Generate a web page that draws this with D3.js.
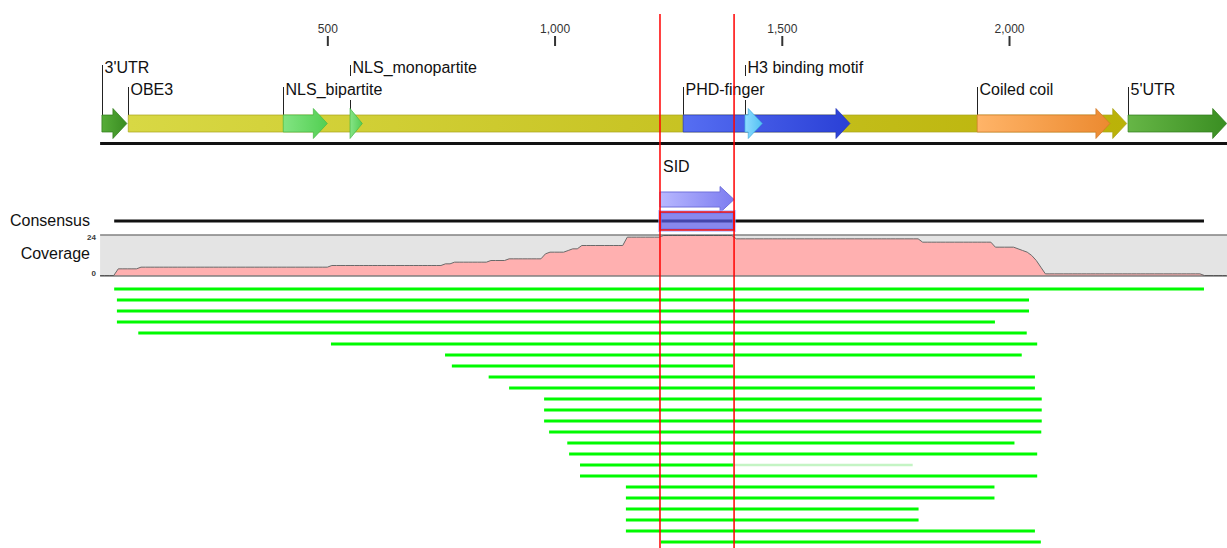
<!DOCTYPE html>
<html>
<head>
<meta charset="utf-8">
<script src="https://cdn.jsdelivr.net/npm/d3@7"></script>
<style>
  body { margin: 0; background: #fff; }
  svg { display: block; font-family: "Liberation Sans", Arial, sans-serif; }
</style>
</head>
<body>
<div id="chart"></div>
<script>
// Data (positions in bp)
const seqLength = 2479;
const rulerTicks = [500, 1000, 1500, 2000];

const featureNames = ["OBE3", "3'UTR", "NLS_bipartite", "NLS_monopartite", "PHD-finger", "H3 binding motif", "Coiled coil", "5'UTR"];
const featureStart = [62, 4, 403, 550, 1283, 1419, 1930, 2262];
const featureEnd = [2259, 59, 500, 577, 1650, 1457, 2222, 2479];

const sidName = "SID";
const sidRange = [1232, 1395];

const readStart = [31, 37, 37, 37, 84, 508, 759, 774, 855, 900, 977, 977, 977, 988, 1028, 1032, 1056, 1056, 1157, 1157, 1157, 1157, 1157, 1234];
const readEnd = [2429, 2044, 2044, 1969, 2039, 2062, 2028, 1393, 2057, 2057, 2072, 2072, 2072, 2071, 2012, 2062, 1393, 2062, 1968, 1968, 1801, 1801, 2057, 2070];
// unaligned tail of a read (drawn faint, not counted in coverage)
const readTailEnd = [null, null, null, null, null, null, null, null, null, null, null, null, null, null, null, null, 1788, null, null, null, null, null, null, null];

const coverageTicks = [0, 24];

// Styles
const featureColors = {
  "OBE3": ["#d8d844", "#bab208", "#a9a41a"],
  "3'UTR": ["#56ad38", "#3a8c22", "#2f7a1a"],
  "NLS_bipartite": ["#82e482", "#52cf52", "#46b846"],
  "NLS_monopartite": ["#86e486", "#54cc54", "#46b846"],
  "PHD-finger": ["#566ef2", "#2a40d6", "#2436b8"],
  "H3 binding motif": ["#8edcff", "#52c0f2", "#3eaee0"],
  "Coiled coil": ["#ffb468", "#ec8a30", "#d07828"],
  "5'UTR": ["#66b646", "#3a8e22", "#2f7a1a"],
};
const labelRow = {
  "OBE3": 2, "3'UTR": 1, "NLS_bipartite": 2, "NLS_monopartite": 1,
  "PHD-finger": 2, "H3 binding motif": 1, "Coiled coil": 2, "5'UTR": 2,
};

const dims = { width: 1227, height: 548 };
const bar = { yc: 123.5, bodyHalf: 8.5, headHalf: 15, headLen: 14, top: 115 };
const rowBaseline = { 1: 73, 2: 95 };

const svg = d3.select("#chart").append("svg")
  .attr("width", dims.width)
  .attr("height", dims.height);
const defs = svg.append("defs");

// Scales
const xScale = d3.scaleLinear().domain([0, seqLength]).range([100.1, 1226.7]);
const yRead = d3.scalePoint().domain(d3.range(readStart.length)).range([289, 289 + 11 * (readStart.length - 1)]);
const yCov = d3.scaleLinear().domain([0, d3.max(coverageTicks)]).range([275.5, 235.5]);

function arrowPath(x0, x1, yc, bh, hh, hl) {
  if (x1 - x0 <= hl) {
    return `M${x0},${yc - hh}L${x1},${yc}L${x0},${yc + hh}Z`;
  }
  const xh = x1 - hl;
  return `M${x0},${yc - bh}L${xh},${yc - bh}L${xh},${yc - hh}L${x1},${yc}L${xh},${yc + hh}L${xh},${yc + bh}L${x0},${yc + bh}Z`;
}

// Ruler
const ruler = svg.append("g").attr("transform", "translate(0,46)")
  .call(d3.axisTop(xScale).tickValues(rulerTicks).tickFormat(d3.format(",")).tickSize(10).tickPadding(3));
ruler.select(".domain").remove();
ruler.selectAll(".tick line").attr("stroke", "#333").attr("stroke-width", 2);
ruler.selectAll(".tick text").attr("fill", "#333").style("font-size", "12px")
  .style("font-family", "'Liberation Sans', Arial, sans-serif");

// Feature gradients
const features = featureNames.map((name, i) => ({ name, start: featureStart[i], end: featureEnd[i], i }));
features.forEach((f) => {
  const g = defs.append("linearGradient").attr("id", `grad${f.i}`).attr("x1", "0").attr("x2", "1").attr("y1", "0").attr("y2", "0");
  g.append("stop").attr("offset", "0").attr("stop-color", featureColors[f.name][0]);
  g.append("stop").attr("offset", "1").attr("stop-color", featureColors[f.name][1]);
});

// Leader lines
svg.append("g").selectAll("line").data(features).join("line")
  .attr("x1", (d) => Math.round(xScale(d.start)) + 0.5)
  .attr("x2", (d) => Math.round(xScale(d.start)) + 0.5)
  .attr("y1", (d) => rowBaseline[labelRow[d.name]] - 8)
  .attr("y2", bar.top)
  .attr("stroke", "#222").attr("stroke-width", 1);

// Feature arrows
svg.append("g").selectAll("path").data(features).join("path")
  .attr("d", (d) => arrowPath(xScale(d.start), xScale(d.end), bar.yc, bar.bodyHalf, bar.headHalf, bar.headLen))
  .attr("fill", (d) => `url(#grad${d.i})`)
  .attr("stroke", (d) => featureColors[d.name][2])
  .attr("stroke-width", 1)
  .attr("stroke-opacity", 0.7);

// Labels (row 1 first, row 2 on top with white backing)
const labelGroup = svg.append("g");
[1, 2].forEach((row) => {
  features.filter((f) => labelRow[f.name] === row).forEach((f) => {
    const lx = Math.round(xScale(f.start)) + 2.5;
    const bg = labelGroup.append("rect").attr("fill", "#fff");
    const t = labelGroup.append("text")
      .attr("x", lx).attr("y", rowBaseline[row])
      .style("font-size", "16px").attr("fill", "#111")
      .text(f.name);
    const w = t.node().getComputedTextLength();
    bg.attr("x", lx).attr("y", rowBaseline[row] - 19).attr("width", w + 1).attr("height", 24);
  });
});

// Main sequence line
svg.append("line")
  .attr("x1", xScale(0)).attr("x2", dims.width)
  .attr("y1", 143.5).attr("y2", 143.5)
  .attr("stroke", "#111").attr("stroke-width", 3);

// SID annotation
const sidGrad = defs.append("linearGradient").attr("id", "sidGrad").attr("x1", "0").attr("x2", "1");
sidGrad.append("stop").attr("offset", "0").attr("stop-color", "#b8b8ff");
sidGrad.append("stop").attr("offset", "1").attr("stop-color", "#7c7cf0");

svg.append("text")
  .attr("x", xScale(sidRange[0]) + 3).attr("y", 172)
  .style("font-size", "16px").attr("fill", "#111")
  .text(sidName);

svg.append("path")
  .attr("d", arrowPath(xScale(sidRange[0]), xScale(sidRange[1]), 199.5, 7.5, 13, 14))
  .attr("fill", "url(#sidGrad)")
  .attr("stroke", "#7070dc").attr("stroke-width", 1);

// Consensus
const readExtent = [d3.min(readStart), d3.max(readEnd)];
svg.append("line")
  .attr("x1", xScale(readExtent[0])).attr("x2", xScale(readExtent[1]))
  .attr("y1", 221).attr("y2", 221)
  .attr("stroke", "#111").attr("stroke-width", 3);

svg.append("rect")
  .attr("x", xScale(sidRange[0])).attr("y", 212)
  .attr("width", xScale(sidRange[1]) - xScale(sidRange[0])).attr("height", 18)
  .attr("fill", "none").attr("stroke", "#a8a8ff").attr("stroke-width", 4).attr("stroke-opacity", 0.6);
svg.append("rect")
  .attr("x", xScale(sidRange[0])).attr("y", 212)
  .attr("width", xScale(sidRange[1]) - xScale(sidRange[0])).attr("height", 18)
  .attr("fill", "#5a5ae6").attr("fill-opacity", 0.72)
  .attr("stroke", "#ee1111").attr("stroke-width", 1.5);

svg.append("text").attr("x", 90).attr("y", 226).attr("text-anchor", "end")
  .style("font-size", "16px").attr("fill", "#111").text("Consensus");

// Coverage
svg.append("rect")
  .attr("x", xScale(0)).attr("y", yCov(24)).attr("width", dims.width - xScale(0)).attr("height", yCov(0) - yCov(24))
  .attr("fill", "#e4e4e4");

const depth = new Array(seqLength + 1).fill(0);
readStart.forEach((s, i) => {
  for (let b = s; b < readEnd[i]; b++) depth[b] += 1;
});
const covPoints = d3.range(0, seqLength + 1, 10).map((bp) => ({ bp, depth: depth[bp] }));
covPoints.push({ bp: seqLength, depth: depth[seqLength] });

svg.append("path").datum(covPoints)
  .attr("d", d3.area().x((d) => xScale(d.bp)).y0(yCov(0)).y1((d) => yCov(d.depth)))
  .attr("fill", "#ffb0b0");
svg.append("path").datum(covPoints)
  .attr("d", d3.line().x((d) => xScale(d.bp)).y((d) => yCov(d.depth)))
  .attr("fill", "none").attr("stroke", "#6a6a6a").attr("stroke-width", 1);

[yCov(24) - 0.5, yCov(0) + 0.5].forEach((y) => {
  svg.append("line").attr("x1", xScale(0)).attr("x2", dims.width)
    .attr("y1", y).attr("y2", y).attr("stroke", "#444").attr("stroke-width", 1.2);
});

svg.append("text").attr("x", 90).attr("y", 259).attr("text-anchor", "end")
  .style("font-size", "16px").attr("fill", "#111").text("Coverage");
svg.append("g").selectAll("text").data(coverageTicks).join("text")
  .attr("x", 96).attr("y", (d) => yCov(d) + (d === 0 ? 0 : 4))
  .attr("text-anchor", "end")
  .style("font-size", "8px").style("font-weight", "bold").attr("fill", "#3a3a3a")
  .text((d) => d);

// Reads
const reads = readStart.map((s, i) => ({ s, e: readEnd[i], tail: readTailEnd[i], i }));
svg.append("g").selectAll("line").data(reads.filter((r) => r.tail !== null)).join("line")
  .attr("x1", (d) => xScale(d.e)).attr("x2", (d) => xScale(d.tail))
  .attr("y1", (d) => yRead(d.i)).attr("y2", (d) => yRead(d.i))
  .attr("stroke", "#c4f4c4").attr("stroke-width", 2.6);
svg.append("g").selectAll("line").data(reads).join("line")
  .attr("x1", (d) => xScale(d.s)).attr("x2", (d) => xScale(d.e))
  .attr("y1", (d) => yRead(d.i)).attr("y2", (d) => yRead(d.i))
  .attr("stroke", "#00fa00").attr("stroke-width", 2.8);

// Selection lines
svg.append("g").selectAll("line").data(sidRange).join("line")
  .attr("x1", (d) => xScale(d)).attr("x2", (d) => xScale(d))
  .attr("y1", 14).attr("y2", dims.height)
  .attr("stroke", "#ff0000").attr("stroke-width", 1.5);
</script>
</body>
</html>
